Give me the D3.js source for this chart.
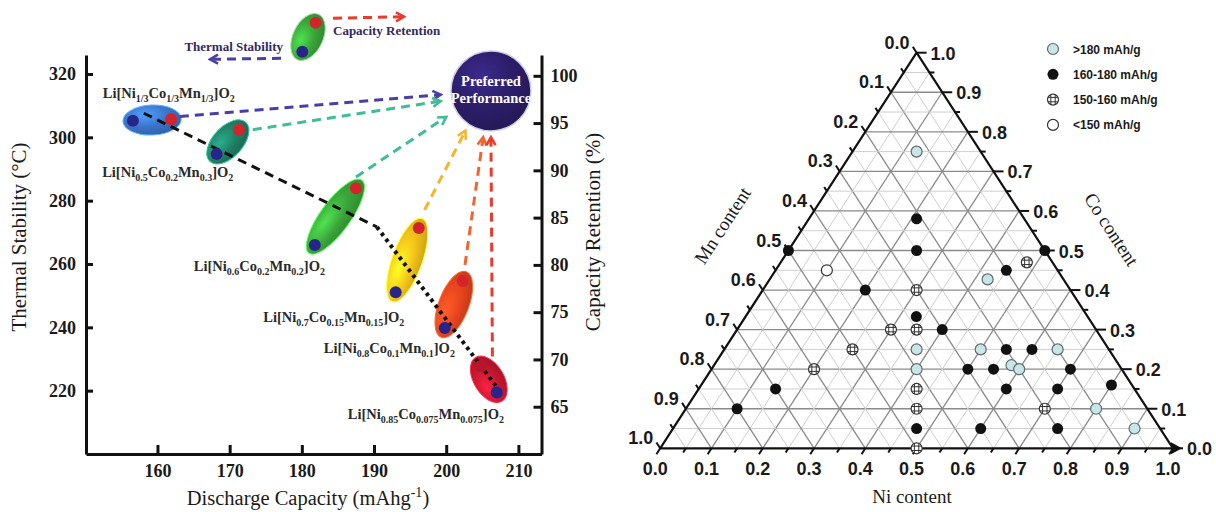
<!DOCTYPE html>
<html>
<head>
<meta charset="utf-8">
<script src="https://cdn.jsdelivr.net/npm/d3@7"></script>
<style>
  body { margin: 0; background: #fff; }
  svg { display: block; }
</style>
</head>
<body>
<div id="chart"></div>
<script>
// ---------- left panel: capacity / thermal stability / retention ----------
const materials = [
    "Li[Ni_{1/3}Co_{1/3}Mn_{1/3}]O_{2}",
    "Li[Ni_{0.5}Co_{0.2}Mn_{0.3}]O_{2}",
    "Li[Ni_{0.6}Co_{0.2}Mn_{0.2}]O_{2}",
    "Li[Ni_{0.7}Co_{0.15}Mn_{0.15}]O_{2}",
    "Li[Ni_{0.8}Co_{0.1}Mn_{0.1}]O_{2}",
    "Li[Ni_{0.85}Co_{0.075}Mn_{0.075}]O_{2}"
];
// blue dots: thermal stability (left axis)
const capacityBlue = [156.6, 168.2, 181.8, 193.0, 199.8, 207.0];
const thermal      = [305.2, 294.7, 266.0, 251.1, 239.8, 219.4];
// red dots: capacity retention (right axis)
const capacityRed  = [161.9, 171.3, 187.5, 196.2, 202.3, 204.8];
const retention    = [95.4, 94.3, 88.1, 83.9, 78.3, 69.3];
// label anchors (end of text, baseline) in data units
const labelCap     = [170.7, 170.5, 183.2, 194.2, 201.2, 208.0];
const labelThermal = [312.4, 287.5, 257.9, 241.7, 231.9, 211.1];
// dashed arrows toward "Preferred Performance"
const arrowFromCap = [163.1, 173.2, 187.5, 197.0, 202.6, 206.4];
const arrowFromRet = [95.7, 94.3, 89.3, 85.8, 80.0, 70.3];
const arrowToCap   = [199.1, 199.1, 199.9, 202.6, 205.1, 206.2];
const arrowToRet   = [98.0, 97.3, 95.6, 94.1, 93.4, 93.4];
// trend of thermal stability (dashed then dotted)
const trendCap     = [158.1, 190.4, 207.1];
const trendThermal = [307.6, 271.7, 220.8];
const preferredCap = 206.2, preferredRet = 98.4;

const capTicks = [160, 170, 180, 190, 200, 210];
const thermalTicks = [220, 240, 260, 280, 300, 320];
const retentionTicks = [65, 70, 75, 80, 85, 90, 95, 100];

// ---------- right panel: ternary Ni / Co / Mn ----------
const classes = [">180 mAh/g", "160-180 mAh/g", "150-160 mAh/g", "<150 mAh/g"];
const terNi = [
    0.125, 0.425, 0.375, 0.5, 0.65, 0.4, 0.58, 0.6, 0.8, 0.9,
    0.21, 0.25, 0.0, 0.5, 0.45, 0.2, 0.333, 0.4, 0.55, 0.6, 0.5, 0.55, 0.7, 0.15, 0.6, 0.7, 0.8, 0.1, 0.475, 0.6, 0.75,
    0.48, 0.3, 0.35, 0.3, 0.25, 0.2, 0.425, 0.45, 0.7, 0.5,
    0.1
];
const terCo = [
    0.75, 0.427, 0.25, 0.25, 0.25, 0.2, 0.21, 0.2, 0.1, 0.05,
    0.58, 0.5, 0.5, 0.5, 0.45, 0.4, 0.333, 0.3, 0.25, 0.25, 0.2, 0.2, 0.2, 0.15, 0.15, 0.15, 0.16, 0.1, 0.05, 0.05, 0.05,
    0.47, 0.4, 0.3, 0.3, 0.25, 0.2, 0.15, 0.1, 0.1, 0.0,
    0.45
];
const terClass = [
    0, 0, 0, 0, 0, 0, 0, 0, 0, 0,
    1, 1, 1, 1, 1, 1, 1, 1, 1, 1, 1, 1, 1, 1, 1, 1, 1, 1, 1, 1, 1,
    2, 2, 2, 2, 2, 2, 2, 2, 2, 2,
    3
];
const terTicks = d3.range(0, 1.0001, 0.05);

// ---------- styling ----------
const serif = "'Liberation Serif','Times New Roman',Times,serif";
const sans = "'Liberation Sans',Arial,Helvetica,sans-serif";
const ellipseColors = ["#3b74c9", "#1f7f66", "#3aa53a", "#f3c31a", "#e8441e", "#c5182f"];
const arrowColors = ["#4a3fa6", "#3dbd98", "#3dbd98", "#f5b52a", "#f2652f", "#ec3a2d"];
const blueDot = "#27258a", redDot = "#d3232b";

const W = 1216, H = 512;
const svg = d3.select("#chart").append("svg")
    .attr("width", W).attr("height", H)
    .style("background", "#fff");
const defs = svg.append("defs");

function glossy(id, base) {
    const c = d3.color(base);
    const g = defs.append("radialGradient").attr("id", id)
        .attr("cx", "38%").attr("cy", "32%").attr("r", "72%");
    g.append("stop").attr("offset", "0%").attr("stop-color", c.brighter(0.9));
    g.append("stop").attr("offset", "55%").attr("stop-color", c);
    g.append("stop").attr("offset", "100%").attr("stop-color", c.darker(0.5));
    return `url(#${id})`;
}

function arrowMarker(id, color) {
    defs.append("marker").attr("id", id)
        .attr("viewBox", "0 0 12 12").attr("refX", 9).attr("refY", 6)
        .attr("markerWidth", 12).attr("markerHeight", 12)
        .attr("markerUnits", "userSpaceOnUse").attr("orient", "auto")
        .append("path").attr("d", "M2,1.5 L10,6 L2,10.5")
        .attr("fill", "none").attr("stroke", color).attr("stroke-width", 2.6);
    return `url(#${id})`;
}

// text with _{subscript} parts
function richText(t, str, size, subSize, drop) {
    const parts = str.split(/_\{([^}]*)\}/);
    let shift = 0;
    parts.forEach((p, i) => {
        if (!p) return;
        const want = i % 2 === 1 ? drop : 0;
        t.append("tspan").attr("dy", want - shift)
            .attr("font-size", i % 2 === 1 ? subSize : size).text(p);
        shift = want;
    });
}

// ================= LEFT PANEL =================
const x = d3.scaleLinear().domain([150.1, 213.2]).range([86, 541.5]);
const yT = d3.scaleLinear().domain([200, 326]).range([454, 55]);
const yR = d3.scaleLinear().domain([60, 102.2]).range([454, 55]);

function styleAxis(g) {
    g.select(".domain").attr("stroke", "#111").attr("stroke-width", 3);
    g.selectAll(".tick line").attr("stroke", "#111").attr("stroke-width", 3);
    g.selectAll(".tick text").attr("font-family", serif).attr("font-size", 18)
        .attr("font-weight", "bold").attr("fill", "#1a1a1a");
}

svg.append("g").attr("transform", "translate(86,0)")
    .call(d3.axisLeft(yT).tickValues(thermalTicks).tickSize(-7).tickSizeOuter(0).tickPadding(10))
    .call(styleAxis);
svg.append("g").attr("transform", "translate(541.5,0)")
    .call(d3.axisRight(yR).tickValues(retentionTicks).tickSize(-8).tickSizeOuter(0).tickPadding(9))
    .call(styleAxis);
svg.append("g").attr("transform", "translate(0,454)")
    .call(d3.axisBottom(x).tickValues(capTicks).tickSize(-9).tickSizeOuter(0).tickPadding(10))
    .call(styleAxis);

// axis titles
svg.append("text").attr("transform", "translate(26,237) rotate(-90)")
    .attr("text-anchor", "middle").attr("font-family", serif).attr("font-size", 21)
    .attr("fill", "#1a1a1a").text("Thermal Stability (°C)");
svg.append("text").attr("transform", "translate(600,232) rotate(-90)")
    .attr("text-anchor", "middle").attr("font-family", serif).attr("font-size", 21)
    .attr("fill", "#1a1a1a").text("Capacity Retention (%)");
const xTitle = svg.append("text").attr("x", 308).attr("y", 505)
    .attr("text-anchor", "middle").attr("font-family", serif).attr("font-size", 20.5)
    .attr("fill", "#1a1a1a");
xTitle.append("tspan").text("Discharge Capacity (mAhg");
xTitle.append("tspan").attr("dy", -8).attr("font-size", 14).text("-1");
xTitle.append("tspan").attr("dy", 8).text(")");

// ellipses around each blue/red pair
const pairs = materials.map((m, i) => {
    const bx = x(capacityBlue[i]), by = yT(thermal[i]);
    const rx = x(capacityRed[i]), ry = yR(retention[i]);
    return {
        i, bx, by, rx, ry,
        cx: (bx + rx) / 2, cy: (by + ry) / 2,
        half: Math.hypot(rx - bx, ry - by) / 2,
        ang: Math.atan2(ry - by, rx - bx) * 180 / Math.PI
    };
});

svg.append("g").selectAll("ellipse").data(pairs).join("ellipse")
    .attr("transform", d => `translate(${d.cx},${d.cy}) rotate(${d.ang})`)
    .attr("rx", d => d.half + 10).attr("ry", 15)
    .attr("fill", d => glossy("gl" + d.i, ellipseColors[d.i]))
    .attr("stroke", d => d3.color(ellipseColors[d.i]).brighter(1.2))
    .attr("stroke-width", 1);

// trend line: dashed then dotted
svg.append("line")
    .attr("x1", x(trendCap[0])).attr("y1", yT(trendThermal[0]))
    .attr("x2", x(trendCap[1])).attr("y2", yT(trendThermal[1]))
    .attr("stroke", "#111").attr("stroke-width", 3).attr("stroke-dasharray", "9,6");
svg.append("line")
    .attr("x1", x(trendCap[1])).attr("y1", yT(trendThermal[1]))
    .attr("x2", x(trendCap[2])).attr("y2", yT(trendThermal[2]))
    .attr("stroke", "#111").attr("stroke-width", 4).attr("stroke-dasharray", "3.5,4");

// preferred performance circle
svg.append("circle").attr("cx", x(preferredCap)).attr("cy", yR(preferredRet)).attr("r", 40)
    .attr("fill", glossy("glPref", "#2c1e68")).attr("stroke", "#cfcde6").attr("stroke-width", 1.5);
svg.append("text").attr("x", x(preferredCap)).attr("y", yR(preferredRet) - 5)
    .attr("text-anchor", "middle").attr("font-family", serif).attr("font-weight", "bold")
    .attr("font-size", 14.5).attr("fill", "#fff").text("Preferred");
svg.append("text").attr("x", x(preferredCap)).attr("y", yR(preferredRet) + 12)
    .attr("text-anchor", "middle").attr("font-family", serif).attr("font-weight", "bold")
    .attr("font-size", 14.5).attr("fill", "#fff").text("Performance");

// dashed arrows
materials.forEach((m, i) => {
    svg.append("line")
        .attr("x1", x(arrowFromCap[i])).attr("y1", yR(arrowFromRet[i]))
        .attr("x2", x(arrowToCap[i])).attr("y2", yR(arrowToRet[i]))
        .attr("stroke", arrowColors[i]).attr("stroke-width", 3)
        .attr("stroke-dasharray", "9,6")
        .attr("marker-end", arrowMarker("ar" + i, arrowColors[i]));
});

// dots
svg.append("g").selectAll("circle").data(pairs).join("circle")
    .attr("cx", d => d.rx).attr("cy", d => d.ry).attr("r", 6)
    .attr("fill", d => d.i === 5 ? "#b8162c" : redDot);
svg.append("g").selectAll("circle").data(pairs).join("circle")
    .attr("cx", d => d.bx).attr("cy", d => d.by).attr("r", 6)
    .attr("fill", blueDot);

// compound labels
materials.forEach((m, i) => {
    const t = svg.append("text")
        .attr("x", x(labelCap[i])).attr("y", yT(labelThermal[i]))
        .attr("text-anchor", "end").attr("font-family", serif)
        .attr("font-weight", "bold").attr("fill", "#2a2a2a");
    richText(t, m, 14.5, 10, 4);
});

// legend on top: green ellipse, red up = retention, blue down = thermal
const lg = svg.append("g").attr("transform", "translate(308,37)");
lg.append("ellipse").attr("transform", "rotate(-65)").attr("rx", 25).attr("ry", 15)
    .attr("fill", glossy("glLeg", "#3aa53a")).attr("stroke", "#9fdc9f").attr("stroke-width", 1);
lg.append("circle").attr("cx", 7.7).attr("cy", -14.3).attr("r", 6).attr("fill", redDot);
lg.append("circle").attr("cx", -5.7).attr("cy", 14.7).attr("r", 6).attr("fill", blueDot);
lg.append("line").attr("x1", 25).attr("y1", -18.7).attr("x2", 95).attr("y2", -20.3)
    .attr("stroke", "#ec3a2d").attr("stroke-width", 3).attr("stroke-dasharray", "9,6")
    .attr("marker-end", arrowMarker("arLegR", "#ec3a2d"));
lg.append("line").attr("x1", -27).attr("y1", 21.3).attr("x2", -97).attr("y2", 22.3)
    .attr("stroke", "#4a3fa6").attr("stroke-width", 3).attr("stroke-dasharray", "9,6")
    .attr("marker-end", arrowMarker("arLegB", "#4a3fa6"));
lg.append("text").attr("x", 25).attr("y", -2.5).attr("font-family", serif)
    .attr("font-weight", "bold").attr("font-size", 13).attr("fill", "#33295f")
    .text("Capacity Retention");
lg.append("text").attr("x", -25).attr("y", 14).attr("text-anchor", "end").attr("font-family", serif)
    .attr("font-weight", "bold").attr("font-size", 13).attr("fill", "#33295f")
    .text("Thermal Stability");

// ================= RIGHT PANEL (ternary) =================
const tx = d3.scaleLinear().domain([0, 1]).range([660.2, 1173]);
const ty = d3.scaleLinear().domain([0, 1]).range([448.3, 52.7]);
const P = (ni, co) => [tx(ni + co / 2), ty(co)];

const tern = svg.append("g");
// grid
d3.range(1, 20).forEach(k => {
    const v = k * 0.05;
    const major = k % 2 === 0;
    const col = major ? "#8a8a8a" : "#cfcfcf";
    const sw = major ? 1.3 : 1;
    const segs = [
        [P(0, v), P(1 - v, v)],       // constant Co
        [P(v, 0), P(v, 1 - v)],       // constant Ni
        [P(1 - v, 0), P(0, 1 - v)]    // constant Mn
    ];
    segs.forEach(s => {
        tern.append("line")
            .attr("x1", s[0][0]).attr("y1", s[0][1])
            .attr("x2", s[1][0]).attr("y2", s[1][1])
            .attr("stroke", col).attr("stroke-width", sw);
    });
});

// outline
tern.append("path")
    .attr("d", `M${P(0, 0)}L${P(1, 0)}L${P(0, 1)}Z`)
    .attr("fill", "none").attr("stroke", "#111").attr("stroke-width", 2.2)
    .attr("stroke-linejoin", "round");

// ticks
const dNi = [-0.54, 0.84], dMn = [-0.54, -0.84];
terTicks.forEach((v, k) => {
    const major = k % 2 === 0;
    const len = major ? 7 : 5;
    const b = P(v, 0);
    tern.append("line").attr("x1", b[0]).attr("y1", b[1])
        .attr("x2", b[0] + dNi[0] * len).attr("y2", b[1] + dNi[1] * len)
        .attr("stroke", "#111").attr("stroke-width", 2);
    const r = P(1 - v, v);
    tern.append("line").attr("x1", r[0]).attr("y1", r[1])
        .attr("x2", r[0] + (major ? 10 : 5)).attr("y2", r[1])
        .attr("stroke", "#111").attr("stroke-width", 2);
    const l = P(0, 1 - v);
    tern.append("line").attr("x1", l[0]).attr("y1", l[1])
        .attr("x2", l[0] + dMn[0] * len).attr("y2", l[1] + dMn[1] * len)
        .attr("stroke", "#111").attr("stroke-width", 2);
    if (!major) return;
    const lab = d3.format(".1f")(v);
    tern.append("text").attr("x", b[0] - 5).attr("y", 475)
        .attr("text-anchor", "middle").attr("font-family", sans).attr("font-weight", "bold")
        .attr("font-size", 18).attr("fill", "#1a1a1a").text(lab);
    tern.append("text").attr("x", r[0] + 14).attr("y", r[1] + 7)
        .attr("font-family", sans).attr("font-weight", "bold")
        .attr("font-size", 18).attr("fill", "#1a1a1a").text(lab);
    tern.append("text").attr("x", l[0] - 7).attr("y", l[1] - 4)
        .attr("text-anchor", "end").attr("font-family", sans).attr("font-weight", "bold")
        .attr("font-size", 18).attr("fill", "#1a1a1a").text(lab);
});

// arrowhead at the bottom-right corner
const br = P(1, 0);
tern.append("path")
    .attr("d", `M${br[0] - 2},${br[1] - 6}L${br[0] + 9},${br[1]}L${br[0] - 2},${br[1] + 6}Z`)
    .attr("fill", "#111");

// axis titles
tern.append("text").attr("x", 912).attr("y", 503).attr("text-anchor", "middle")
    .attr("font-family", serif).attr("font-size", 19).attr("fill", "#1a1a1a").text("Ni content");
tern.append("text").attr("transform", "translate(728,229) rotate(-57)").attr("text-anchor", "middle")
    .attr("font-family", serif).attr("font-size", 19).attr("fill", "#1a1a1a").text("Mn content");
tern.append("text").attr("transform", "translate(1106,233) rotate(57)").attr("text-anchor", "middle")
    .attr("font-family", serif).attr("font-size", 19).attr("fill", "#1a1a1a").text("Co content");

// markers
function marker(g, cls, cx, cy) {
    const r = 5.5;
    if (cls === 0) {
        g.append("circle").attr("cx", cx).attr("cy", cy).attr("r", r)
            .attr("fill", "#c8e5e8").attr("stroke", "#5f6b6d").attr("stroke-width", 1.2);
    } else if (cls === 1) {
        g.append("circle").attr("cx", cx).attr("cy", cy).attr("r", r).attr("fill", "#111");
    } else if (cls === 2) {
        g.append("circle").attr("cx", cx).attr("cy", cy).attr("r", r)
            .attr("fill", "#fff").attr("stroke", "#333").attr("stroke-width", 1.2);
        [-2.2, 2.2].forEach(o => {
            const h = Math.sqrt(r * r - o * o);
            g.append("line").attr("x1", cx + o).attr("x2", cx + o).attr("y1", cy - h).attr("y2", cy + h)
                .attr("stroke", "#333").attr("stroke-width", 1);
            g.append("line").attr("y1", cy + o).attr("y2", cy + o).attr("x1", cx - h).attr("x2", cx + h)
                .attr("stroke", "#333").attr("stroke-width", 1);
        });
    } else {
        g.append("circle").attr("cx", cx).attr("cy", cy).attr("r", r)
            .attr("fill", "#fff").attr("stroke", "#333").attr("stroke-width", 1.2);
    }
}

const pts = tern.append("g");
terNi.forEach((n, i) => {
    const p = P(n, terCo[i]);
    marker(pts, terClass[i], p[0], p[1]);
});

// legend
const leg = svg.append("g").attr("transform", "translate(1053,49)");
classes.forEach((c, i) => {
    const gy = i * 25.3;
    marker(leg, i, 0, gy);
    leg.append("text").attr("x", 20).attr("y", gy + 4.5)
        .attr("font-family", sans).attr("font-weight", "bold").attr("font-size", 12)
        .attr("fill", "#1a1a1a").text(c);
});
</script>
</body>
</html>
